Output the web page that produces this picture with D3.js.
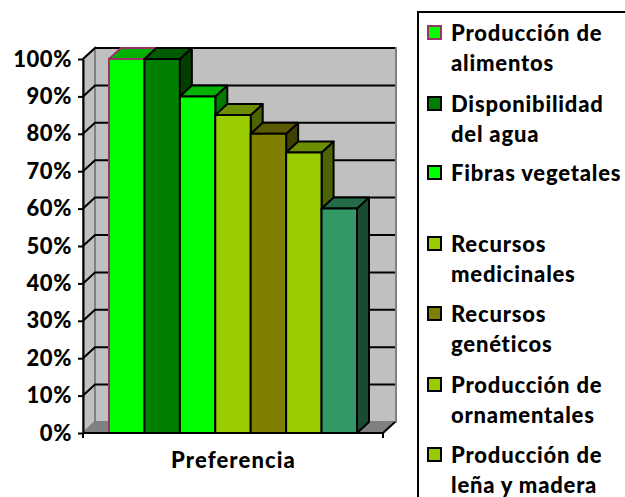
<!DOCTYPE html>
<html>
<head>
<meta charset="utf-8">
<script src="https://cdn.jsdelivr.net/npm/d3@7"></script>
<style>
  html, body { margin: 0; padding: 0; background: #fff; }
  text { font-family: Lato, "Open Sans", sans-serif; font-weight: 900; fill: #000; }
</style>
</head>
<body>
<svg id="chart" width="625" height="497"></svg>
<script>
// data
const categories = ['Producción de alimentos', 'Disponibilidad del agua', 'Fibras vegetales',
    'Recursos medicinales', 'Recursos genéticos', 'Producción de ornamentales', 'Producción de leña y madera'];
const values = [100, 100, 90, 85, 80, 75, 60];
const barColors = ['#00ff00', '#008000', '#00ff00', '#99cc00', '#808000', '#99cc00', '#339966'];
const barStrokes = ['#993366', '#000', '#000', '#000', '#000', '#000', '#000'];
// the last legend swatch does not match its bar in the original
const legendColors = ['#00ff00', '#008000', '#00ff00', '#99cc00', '#808000', '#99cc00', '#99cc00'];
const yTicks = [0, 10, 20, 30, 40, 50, 60, 70, 80, 90, 100];
const legendLines = [['Producción de', 'alimentos'], ['Disponibilidad', 'del agua'], ['Fibras vegetales'],
    ['Recursos', 'medicinales'], ['Recursos', 'genéticos'], ['Producción de', 'ornamentales'], ['Producción de', 'leña y madera']];
const legendRows = [41, 112, 181, 252, 322, 393, 463];

const svg = d3.select('#chart');

// front plane of the chart, depth offset for the fake 3d
const plot = { left: 83, right: 383, top: 59, bottom: 433 };
const depth = { x: 12, y: 11 };

const yScale = d3.scaleLinear().domain([0, 100]).range([plot.bottom, plot.top]);
const xScale = d3.scaleBand().domain(categories).range([109, 357]).padding(0);

const poly = pts => pts.map(p => p.join(',')).join(' ');

// walls
svg.append('polygon') // back wall
    .attr('points', poly([[plot.left + depth.x, plot.top - depth.y], [plot.right + depth.x + 1, plot.top - depth.y],
        [plot.right + depth.x + 1, plot.bottom - depth.y], [plot.left + depth.x, plot.bottom - depth.y]]))
    .attr('fill', '#c0c0c0').attr('stroke', '#808080').attr('stroke-width', 2);
svg.append('polygon') // side wall
    .attr('points', poly([[plot.left, plot.top], [plot.left + depth.x, plot.top - depth.y],
        [plot.left + depth.x, plot.bottom - depth.y], [plot.left, plot.bottom]]))
    .attr('fill', '#c0c0c0').attr('stroke', '#808080').attr('stroke-width', 2);
svg.append('polygon') // floor
    .attr('points', poly([[plot.left, plot.bottom], [plot.left + depth.x, plot.bottom - depth.y],
        [plot.right + depth.x + 1, plot.bottom - depth.y], [plot.right, plot.bottom]]))
    .attr('fill', '#808080');

// gridlines, running along the wall and then across the back
svg.append('g').selectAll('path')
    .data(yTicks.filter(d => d > 0))
    .join('path')
    .attr('d', d => `M${plot.left},${yScale(d)}L${plot.left + depth.x},${yScale(d) - depth.y}H${plot.right + depth.x}`)
    .attr('fill', 'none')
    .attr('stroke', '#000')
    .attr('stroke-width', 2);
svg.append('line')
    .attr('x1', plot.right).attr('y1', plot.bottom)
    .attr('x2', plot.right + depth.x).attr('y2', plot.bottom - depth.y)
    .attr('stroke', '#000').attr('stroke-width', 2);

// bars, left to right so each one covers the side of the one before
const bars = svg.append('g').selectAll('g')
    .data(categories)
    .join('g');

bars.each(function (d, i) {
    const g = d3.select(this);
    const x0 = xScale(d), x1 = x0 + xScale.bandwidth();
    const top = yScale(values[i]);
    const color = d3.color(barColors[i]);
    g.append('polygon') // side
        .attr('points', poly([[x1, top], [x1 + depth.x, top - depth.y], [x1 + depth.x, plot.bottom - depth.y], [x1, plot.bottom]]))
        .attr('fill', color.darker(2));
    g.append('polygon') // top
        .attr('points', poly([[x0, top], [x0 + depth.x, top - depth.y], [x1 + depth.x, top - depth.y], [x1, top]]))
        .attr('fill', color.darker(1));
    g.append('rect') // front
        .attr('x', x0).attr('y', top)
        .attr('width', xScale.bandwidth()).attr('height', plot.bottom - top)
        .attr('fill', barColors[i]);
    g.selectAll('polygon, rect')
        .attr('stroke', barStrokes[i])
        .attr('stroke-width', 2)
        .attr('stroke-linejoin', 'round');
});

// y axis
const yAxis = svg.append('g')
    .attr('transform', `translate(${plot.left},0)`)
    .call(d3.axisLeft(yScale).tickValues(yTicks).tickFormat(d => d + '%').tickSize(5).tickSizeOuter(0).tickPadding(6));
yAxis.selectAll('.domain, line').attr('stroke', '#000').attr('stroke-width', 2);
yAxis.selectAll('text').style('font-size', '22px').style('letter-spacing', '0.6px').attr('fill', '#000');

// x axis, ticks only at the ends
svg.append('line')
    .attr('x1', plot.left).attr('y1', plot.bottom)
    .attr('x2', plot.right).attr('y2', plot.bottom)
    .attr('stroke', '#000').attr('stroke-width', 2);
[plot.left, plot.right].forEach(x => {
    svg.append('line')
        .attr('x1', x).attr('y1', plot.bottom)
        .attr('x2', x).attr('y2', plot.bottom + 5)
        .attr('stroke', '#000').attr('stroke-width', 2);
});

svg.append('text')
    .attr('x', 233.5).attr('y', 468)
    .attr('text-anchor', 'middle')
    .style('font-size', '22px')
    .style('letter-spacing', '1.1px')
    .text('Preferencia');

// legend
svg.append('rect')
    .attr('x', 418).attr('y', 12)
    .attr('width', 220).attr('height', 500)
    .attr('fill', '#fff').attr('stroke', '#000').attr('stroke-width', 2);

const legend = svg.append('g').selectAll('g')
    .data(categories)
    .join('g')
    .attr('transform', (d, i) => `translate(0,${legendRows[i]})`);

legend.append('rect')
    .attr('x', 428).attr('y', -15)
    .attr('width', 13).attr('height', 13)
    .attr('fill', (d, i) => legendColors[i])
    .attr('stroke', (d, i) => barStrokes[i])
    .attr('stroke-width', 2);

legend.each(function (d, i) {
    d3.select(this).selectAll('text')
        .data(legendLines[i])
        .join('text')
        .attr('x', 451)
        .attr('y', (t, j) => j * 29.5)
        .style('font-size', '22px')
        .style('letter-spacing', '0.8px')
        .text(t => t);
});
</script>
</body>
</html>
